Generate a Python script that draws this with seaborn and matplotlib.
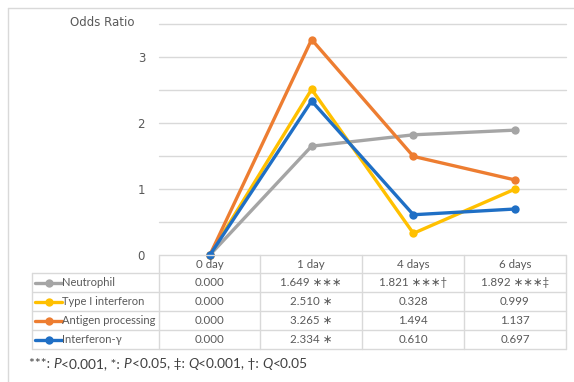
import matplotlib
matplotlib.use("Agg")
import matplotlib.pyplot as plt
from matplotlib.lines import Line2D
import seaborn as sns
import pandas as pd

days = ["0 day", "1 day", "4 days", "6 days"]
series_names = ["Neutrophil", "Type I interferon", "Antigen processing", "Interferon-γ"]
neutrophil = [0.000, 1.649, 1.821, 1.892]
type1_ifn = [0.000, 2.510, 0.328, 0.999]
antigen = [0.000, 3.265, 1.494, 1.137]
ifn_gamma = [0.000, 2.334, 0.610, 0.697]
neutrophil_marks = ["", " ∗∗∗", " ∗∗∗†", " ∗∗∗‡"]
type1_marks = ["", " ∗", "", ""]
antigen_marks = ["", " ∗", "", ""]
ifng_marks = ["", " ∗", "", ""]
colors = ["#A5A5A5", "#FFC000", "#ED7D31", "#1F6FC5"]
yticks = [0, 1, 2, 3]

all_values = [neutrophil, type1_ifn, antigen, ifn_gamma]
all_marks = [neutrophil_marks, type1_marks, antigen_marks, ifng_marks]

rows = []
for name, vals in zip(series_names, all_values):
    for i, v in enumerate(vals):
        rows.append({"x": i, "value": v, "series": name})
df = pd.DataFrame(rows)

sns.set_theme(style="white")
plt.rcParams["font.family"] = ["Lato", "DejaVu Sans"]
TXT = "#595959"
GRID = "#D9D9D9"
TFS = 8.3

W, H = 574, 382
fig = plt.figure(figsize=(W / 100, H / 100), dpi=100)

def fx(x):
    return x / W

def fy(y):
    return 1 - y / H

L, R, T, B = 159, 566, 24, 255
ax = fig.add_axes([fx(L), fy(B), fx(R - L), (B - T) / H])
ax.set_xlim(-0.5, 3.5)
ax.set_ylim(0, 3.5)
for v in [0.5, 1, 1.5, 2, 2.5, 3, 3.5]:
    ax.axhline(v, color=GRID, lw=1, zorder=0)

sns.lineplot(data=df, x="x", y="value", hue="series", hue_order=series_names,
             palette=colors, marker="o", markersize=6, markeredgewidth=0,
             linewidth=2.4, ax=ax, legend=False, zorder=3)
for ln in ax.lines:
    ln.set_clip_on(False)

for s in ax.spines.values():
    s.set_visible(False)
ax.set_xticks([])
ax.set_yticks(yticks)
ax.set_yticklabels([str(t) for t in yticks], color=TXT, fontsize=8.5,
                   family="DejaVu Sans")
ax.tick_params(axis="y", length=0, pad=10)
ax.set_xlabel("")
ax.set_ylabel("")

fig.text(fx(70), fy(23), "Odds Ratio", color=TXT, fontsize=8.5, va="center",
         ha="left", family="DejaVu Sans")

# outer border (top and left)
fig.add_artist(Line2D([fx(8), fx(8)], [fy(8), fy(382)], color=GRID, lw=1))
fig.add_artist(Line2D([fx(8), fx(574)], [fy(8), fy(8)], color=GRID, lw=1))

# data table
col_x = [32, 159, 260, 362, 464, 566]
row_y = [255, 273, 292, 311, 330, 349]

def hline(x0, x1, y):
    fig.add_artist(Line2D([fx(x0), fx(x1)], [fy(y), fy(y)], color=GRID, lw=1))

def vline(x, y0, y1):
    fig.add_artist(Line2D([fx(x), fx(x)], [fy(y0), fy(y1)], color=GRID, lw=1))

hline(col_x[1], col_x[-1], row_y[0])
for y in row_y[1:]:
    hline(col_x[0], col_x[-1], y)
vline(col_x[0], row_y[1], row_y[-1])
for x in col_x[1:]:
    vline(x, row_y[0], row_y[-1])

for j, d in enumerate(days):
    cx = (col_x[j + 1] + col_x[j + 2]) / 2
    fig.text(fx(cx), fy((row_y[0] + row_y[1]) / 2), d, color=TXT, fontsize=TFS,
             ha="center", va="center")

for i, (name, vals, marks, c) in enumerate(zip(series_names, all_values, all_marks, colors)):
    cy = (row_y[i + 1] + row_y[i + 2]) / 2
    fig.add_artist(Line2D([fx(35), fx(62)], [fy(cy), fy(cy)], color=c, lw=2.4))
    fig.add_artist(Line2D([fx(48.5)], [fy(cy)], color=c, marker="o", markersize=6,
                          markeredgewidth=0))
    fig.text(fx(62.5), fy(cy), name, color=TXT, fontsize=8.0, ha="left", va="center")
    for j, (v, m) in enumerate(zip(vals, marks)):
        cx = (col_x[j + 1] + col_x[j + 2]) / 2
        fig.text(fx(cx), fy(cy), f"{v:.3f}{m}", color=TXT, fontsize=TFS,
                 ha="center", va="center", family=["Lato", "DejaVu Sans"])

# footnote with italic P and Q
pieces = [("***: ", "normal"), ("P", "italic"), ("<0.001, *: ", "normal"), ("P", "italic"),
          ("<0.05, ‡: ", "normal"), ("Q", "italic"), ("<0.001, †: ", "normal"),
          ("Q", "italic"), ("<0.05", "normal")]
fig.canvas.draw()
renderer = fig.canvas.get_renderer()
xpos = 29
for txt, st in pieces:
    t = fig.text(fx(xpos), fy(364), txt, color="#404040", fontsize=9.9, style=st,
                 ha="left", va="center")
    bb = t.get_window_extent(renderer=renderer)
    xpos += bb.width

fig.savefig("out.png", dpi=100)
